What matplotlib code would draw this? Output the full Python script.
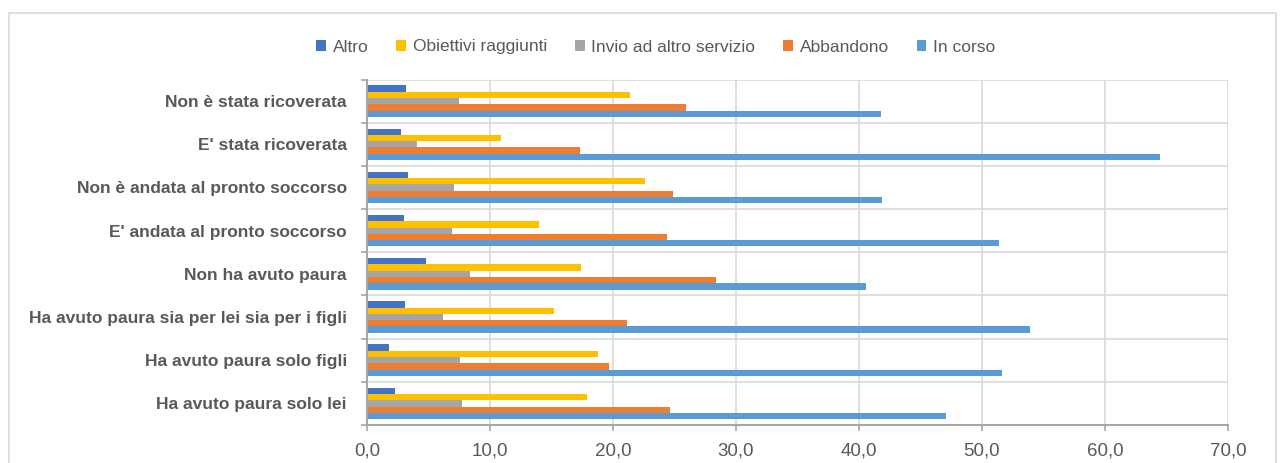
import matplotlib
matplotlib.use("Agg")
import matplotlib.pyplot as plt
from matplotlib import font_manager
from matplotlib.patches import Rectangle, Patch
from matplotlib.ticker import FuncFormatter, MultipleLocator
import numpy as np

# Categories, listed top to bottom
categories = [
    "Non è stata ricoverata",
    "E' stata ricoverata",
    "Non è andata al pronto soccorso",
    "E' andata al pronto soccorso",
    "Non ha avuto paura",
    "Ha avuto paura sia per lei sia per i figli",
    "Ha avuto paura solo figli",
    "Ha avuto paura solo lei",
]

series_names = ["Altro", "Obiettivi raggiunti", "Invio ad altro servizio", "Abbandono", "In corso"]

altro = [3.2, 2.8, 3.3, 3.0, 4.8, 3.1, 1.8, 2.3]
obiettivi = [21.4, 10.9, 22.6, 14.0, 17.4, 15.2, 18.8, 17.9]
invio = [7.5, 4.1, 7.1, 6.9, 8.4, 6.2, 7.6, 7.7]
abbandono = [25.9, 17.3, 24.9, 24.4, 28.4, 21.1, 19.7, 24.6]
in_corso = [41.8, 64.5, 41.9, 51.4, 40.6, 53.9, 51.6, 47.1]

values = [altro, obiettivi, invio, abbandono, in_corso]
colors = ["#4472C4", "#FFC000", "#A5A5A5", "#ED7D31", "#5B9BD5"]

available = {f.name for f in font_manager.fontManager.ttflist}
family = "Liberation Sans Narrow" if "Liberation Sans Narrow" in available else "Liberation Sans"
plt.rcParams["font.family"] = [family, "DejaVu Sans"]

W, H = 1284, 463
fig = plt.figure(figsize=(W / 100, H / 100), dpi=100)
fig.patch.set_facecolor("white")

# outer chart frame
fig.add_artist(Rectangle((9 / W, -0.05), (1276 - 9) / W, 1.05 - 13 / H,
                         transform=fig.transFigure, fill=False,
                         edgecolor="#d9d9d9", linewidth=1.2))

left, right, top, bottom = 367, 1228, 79.5, 425
ax = fig.add_axes([left / W, 1 - bottom / H, (right - left) / W, (bottom - top) / H])

grid_c = "#d9d9d9"
axis_c = "#a6a6a6"
text_c = "#595959"

y = np.arange(len(categories))
h = 0.146
for j, (vals, col) in enumerate(zip(values, colors)):
    ax.barh(y + (j - 2) * h, vals, height=h, color=col, label=series_names[j],
            edgecolor="none", zorder=3)

ax.set_xlim(0, 70)
ax.set_ylim(len(categories) - 0.5, -0.5)

# gridlines
for xv in range(10, 71, 10):
    ax.axvline(xv, color=grid_c, linewidth=1.2, zorder=1)
for yb in np.arange(-0.5, len(categories) - 0.5, 1.0):
    ax.axhline(yb, color=grid_c, linewidth=1.2, zorder=1)

for s in ["top", "right"]:
    ax.spines[s].set_visible(False)
for s in ["left", "bottom"]:
    ax.spines[s].set_color(axis_c)
    ax.spines[s].set_linewidth(1.5)
    ax.spines[s].set_zorder(4)

ax.xaxis.set_major_locator(MultipleLocator(10))
ax.xaxis.set_major_formatter(FuncFormatter(lambda v, p: f"{v:.1f}".replace(".", ",")))
ax.tick_params(axis="x", direction="out", length=4, width=1.2, color=axis_c,
               labelsize=13.5, labelcolor=text_c, pad=8.5)

ax.set_yticks(np.arange(-0.5, len(categories) + 0.5, 1.0), minor=False)
ax.set_yticklabels([])
ax.set_yticks(y, minor=True)
ax.set_yticklabels(categories, minor=True, fontweight="bold")
ax.tick_params(axis="y", which="major", direction="out", length=4, width=1.2, color=axis_c)
ax.tick_params(axis="y", which="minor", length=0, labelsize=12.5, labelcolor=text_c, pad=14.5)

handles = [Patch(facecolor=c, edgecolor="none") for c in colors]
fig.legend(handles, series_names, loc="center", bbox_to_anchor=(656 / W, 1 - 47 / H),
           ncol=5, frameon=False, fontsize=12.5, labelcolor=text_c,
           handlelength=0.55, handleheight=0.55, handletextpad=0.4, columnspacing=1.6)

fig.savefig("out.png", dpi=100, facecolor="white")
